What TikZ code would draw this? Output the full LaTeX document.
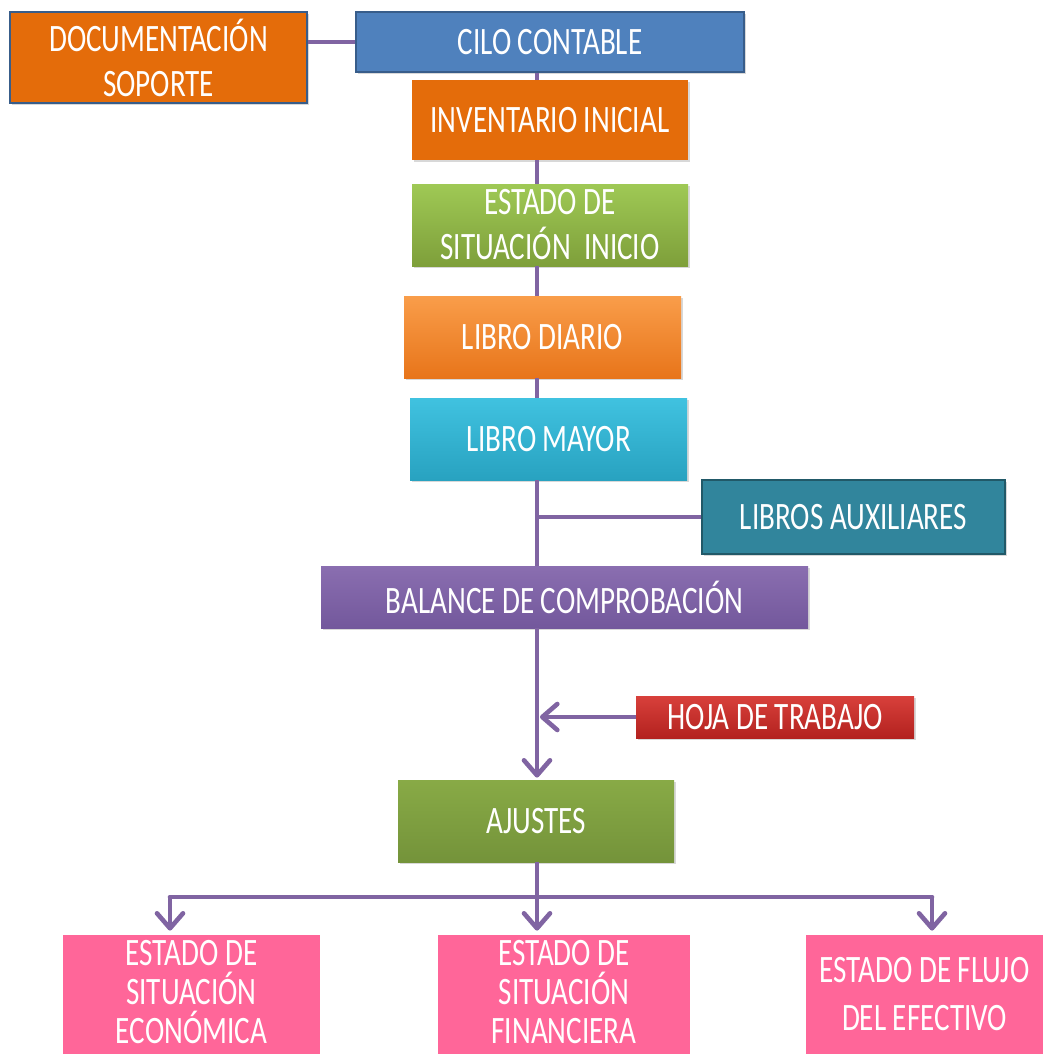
\documentclass[tikz,border=0pt]{standalone}
\usepackage{fontspec}
\setmainfont{Carlito}[FakeStretch=0.75]
\usepackage{tikz}
\usetikzlibrary{arrows.meta, positioning, shadows}
\definecolor{linkpurple}{HTML}{8064A2}
\definecolor{docorange}{HTML}{E46C0A}
\definecolor{cyclblue}{HTML}{4F81BD}
\definecolor{cyclborder}{HTML}{385D8A}
\definecolor{auxteal}{HTML}{31859C}
\definecolor{auxborder}{HTML}{215968}
\definecolor{estpink}{HTML}{FF6699}
\definecolor{esitop}{HTML}{9FC955}
\definecolor{esibot}{HTML}{7E9F3A}
\definecolor{diariotop}{HTML}{F99D4A}
\definecolor{diariobot}{HTML}{E8751A}
\definecolor{mayortop}{HTML}{40C2E0}
\definecolor{mayorbot}{HTML}{28A2C0}
\definecolor{baltop}{HTML}{8A6EB0}
\definecolor{balbot}{HTML}{73589C}
\definecolor{hojatop}{HTML}{D8403B}
\definecolor{hojabot}{HTML}{B3221F}
\definecolor{ajutop}{HTML}{88AA46}
\definecolor{ajubot}{HTML}{74933A}
\tikzset{
    myarrow/.style={draw=linkpurple, line width=2.3pt, -{Straight Barb[length=7.5pt,width=13pt,line cap=round,line join=round]}},
    link/.style={draw=linkpurple, line width=2.3pt},
    box/.style={rectangle, text=white, align=center, inner sep=0pt,
        font=\fontsize{19.4}{22.5}\selectfont,
        drop shadow={opacity=0.3, shadow xshift=0.8pt, shadow yshift=-1.2pt}},
    finalbox/.style={rectangle, fill=estpink, text=white, align=center, inner sep=0pt,
        minimum height=59.5pt, text depth=3pt, font=\fontsize{19.4}{19.5}\selectfont}
}

\begin{document}
\begin{tikzpicture}[x=0.5pt, y=-0.5pt]
    \clip (0,0) rectangle (1049,1054);
    \fill[white] (0,0) rectangle (1049,1054);
    \coordinate (spine) at (537,0);
    % main column
    \node (doc) [box, fill=docorange, draw=cyclborder, line width=0.8pt, minimum width=148.5pt, minimum height=45.5pt] at (158.5,57.5) {DOCUMENTACIÓN\\SOPORTE};
    \node (cilo) [box, fill=cyclblue, draw=cyclborder, line width=0.8pt, minimum width=194pt, minimum height=30pt] at (550,42) {CILO CONTABLE};
    \node (inv) [box, fill=docorange, minimum width=138pt, minimum height=40pt] at (550,120) {INVENTARIO INICIAL};
    \node (esi) [box, top color=esitop, bottom color=esibot, minimum width=138pt, minimum height=41pt] at (550,225) {ESTADO DE\\SITUACIÓN\ \ INICIO};
    \node (diario) [box, top color=diariotop, bottom color=diariobot, minimum width=138.5pt, minimum height=41pt] at (542.5,337) {LIBRO DIARIO};
    \node (mayor) [box, top color=mayortop, bottom color=mayorbot, minimum width=138.5pt, minimum height=41pt] at (548.5,439) {LIBRO MAYOR};
    \node (aux) [box, fill=auxteal, draw=auxborder, line width=0.8pt, minimum width=151.5pt, minimum height=37pt] at (853.5,517) {LIBROS AUXILIARES};
    \node (balance) [box, top color=baltop, bottom color=balbot, minimum width=243.5pt, minimum height=31pt] at (564.5,597) {BALANCE DE COMPROBACIÓN};
    \node (hoja) [box, top color=hojatop, bottom color=hojabot, minimum width=139pt, minimum height=21pt] at (775,717) {HOJA DE TRABAJO};
    \node (ajustes) [box, top color=ajutop, bottom color=ajubot, minimum width=138pt, minimum height=41pt] at (536,821) {AJUSTES};
    % estados finales
    \node (economica) [finalbox, minimum width=128.5pt] at (191.5,994.5) {ESTADO DE\\SITUACIÓN\\ECONÓMICA};
    \node (financiera) [finalbox, minimum width=126pt] at (564,994.5) {ESTADO DE\\SITUACIÓN\\FINANCIERA};
    \node (flujo) [finalbox, minimum width=118.5pt, text depth=1pt, font=\fontsize{19.4}{24}\selectfont] at (924.5,994.5) {ESTADO DE FLUJO\\DEL EFECTIVO};
    % connectors
    \draw [link] (doc.east |- cilo.west) -- (cilo.west);
    \draw [link] (cilo.south -| spine) -- (inv.north -| spine);
    \draw [link] (inv.south -| spine) -- (esi.north -| spine);
    \draw [link] (esi.south -| spine) -- (diario.north -| spine);
    \draw [link] (diario.south -| spine) -- (mayor.north -| spine);
    \draw [link] (mayor.south -| spine) -- (balance.north -| spine);
    \draw [link] (aux.west) -- (aux.west -| spine);
    \draw [myarrow] (balance.south -| spine) -- ([yshift=1pt]ajustes.north -| spine);
    \draw [myarrow] (hoja.west) -- ([xshift=1.5pt]hoja.west -| spine);
    \coordinate (busL) at (170,897);
    \coordinate (busM) at (537,897);
    \coordinate (busR) at (932,897);
    \draw [link] (ajustes.south -| busM) -- (busM);
    \draw [link, line cap=round] (busL) -- (busR);
    \draw [myarrow] (busL) -- ([yshift=2pt]busL |- economica.north);
    \draw [myarrow] (busM) -- ([yshift=2pt]busM |- financiera.north);
    \draw [myarrow] (busR) -- ([yshift=2pt]busR |- flujo.north);
\end{tikzpicture}
\end{document}
